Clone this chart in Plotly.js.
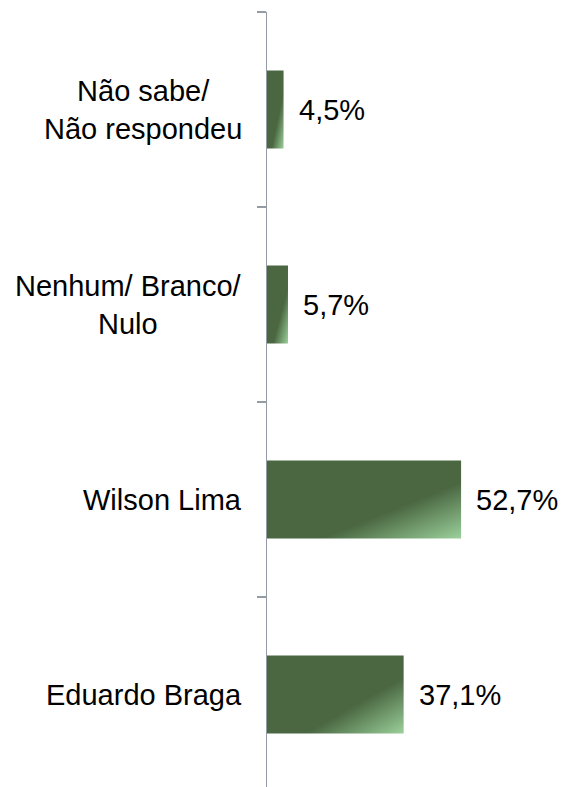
<!DOCTYPE html>
<html>
<head>
<meta charset="utf-8">
<script src="https://cdn.plot.ly/plotly-3.0.1.min.js"></script>
<style>
  html, body { margin: 0; padding: 0; background: #ffffff; }
  #chart { width: 562px; height: 787px; }
</style>
</head>
<body>
<div id="chart"></div>
<script>
// Data (bottom to top)
var categories = ['Eduardo Braga', 'Wilson Lima', 'Nenhum/ Branco/<br>Nulo', 'Não sabe/<br>Não respondeu'];
var values = [37.1, 52.7, 5.7, 4.5];
var valueLabels = values.map(function (v) { return v.toFixed(1).replace('.', ',') + '%'; });

var FONT = 'Liberation Sans, Arial, Helvetica, sans-serif';
var AXIS_GRAY = '#959ba2';

var trace = {
  type: 'bar',
  orientation: 'h',
  y: categories,
  x: values,
  marker: { color: '#4a6741', line: { width: 0 } },
  hoverinfo: 'skip'
};

var annotations = [];
categories.forEach(function (c, i) {
  annotations.push({
    xref: 'paper', yref: 'y', x: 0, y: c,
    text: c, showarrow: false, xanchor: 'right', yanchor: 'middle',
    align: 'center', xshift: -23,
    font: { family: FONT, size: 29, color: '#000000' }
  });
  annotations.push({
    xref: 'x', yref: 'y', x: values[i], y: c,
    text: valueLabels[i], showarrow: false, xanchor: 'left', yanchor: 'middle',
    xshift: 13,
    font: { family: FONT, size: 29, color: '#000000' }
  });
});

var layout = {
  width: 562, height: 787,
  margin: { l: 267, r: 0, t: 12, b: 0, pad: 0 },
  paper_bgcolor: '#ffffff', plot_bgcolor: 'rgba(0,0,0,0)',
  showlegend: false,
  bargap: 0.6,
  font: { family: FONT, size: 29, color: '#000000' },
  xaxis: { visible: false, range: [0, 80.1], fixedrange: true },
  yaxis: {
    type: 'category',
    range: [-0.474, 3.5],
    autorange: false,
    showline: true, linecolor: AXIS_GRAY, linewidth: 1.5,
    ticks: 'outside', tickson: 'boundaries', ticklen: 9,
    tickcolor: AXIS_GRAY, tickwidth: 1.5,
    showticklabels: false, showgrid: false, zeroline: false,
    fixedrange: true
  },
  annotations: annotations
};

Plotly.newPlot('chart', [trace], layout, { displayModeBar: false, staticPlot: true }).then(function (gd) {
  var svgNS = 'http://www.w3.org/2000/svg';
  var svg = gd.querySelector('svg.main-svg');
  var defs = svg.querySelector('defs');
  if (!defs) { defs = document.createElementNS(svgNS, 'defs'); svg.insertBefore(defs, svg.firstChild); }
  var grad = document.createElementNS(svgNS, 'linearGradient');
  grad.setAttribute('id', 'barGrad');
  grad.setAttribute('x1', '0'); grad.setAttribute('y1', '0');
  grad.setAttribute('x2', '1'); grad.setAttribute('y2', '1');
  [['0', '#4a6741'], ['0.64', '#4a6741'], ['1', '#9bd09b']].forEach(function (s) {
    var st = document.createElementNS(svgNS, 'stop');
    st.setAttribute('offset', s[0]);
    st.setAttribute('stop-color', s[1]);
    grad.appendChild(st);
  });
  defs.appendChild(grad);
  gd.querySelectorAll('.bars .point path').forEach(function (p) {
    p.style.fill = 'url(#barGrad)';
  });
});
</script>
</body>
</html>
